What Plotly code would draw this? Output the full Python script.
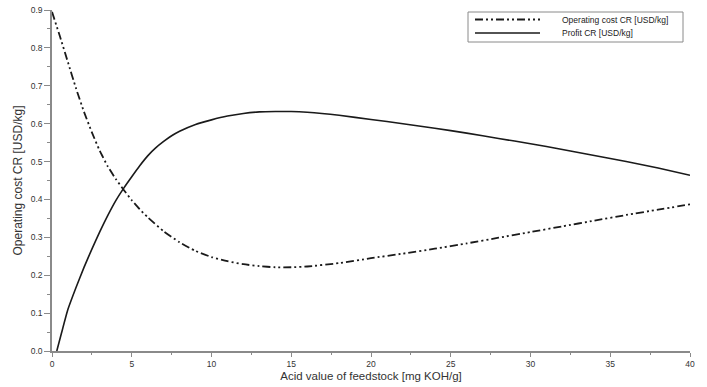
import plotly.graph_objects as go

# Data
cost_x = [0, 0.5, 1, 1.5, 2, 2.5, 3, 3.5, 4, 4.5, 5, 5.5, 6, 7, 8, 9, 10, 11, 12, 13,
          14, 15, 16, 18, 20, 22, 24, 26, 28, 30, 32, 34, 36, 38, 40]
cost_y = [0.895, 0.83, 0.762, 0.694, 0.632, 0.577, 0.528, 0.487, 0.454, 0.425, 0.398,
          0.374, 0.353, 0.316, 0.287, 0.264, 0.248, 0.237, 0.229, 0.224,
          0.221, 0.221, 0.223, 0.232, 0.245, 0.257, 0.270, 0.284, 0.299, 0.314,
          0.329, 0.344, 0.359, 0.373, 0.387]

profit_x = [0.3, 0.6, 1, 1.5, 2, 2.5, 3, 3.5, 4, 4.5, 5, 5.5, 6, 6.5, 7, 7.5, 8, 9, 10, 11, 12,
            13, 14, 15, 16, 18, 20, 22, 24, 26, 28, 30, 32, 34, 36, 38, 40]
profit_y = [0.0, 0.048, 0.11, 0.167, 0.22, 0.269, 0.315, 0.358, 0.397, 0.430, 0.460, 0.489,
            0.515, 0.536, 0.553, 0.568, 0.580, 0.598, 0.610, 0.620, 0.627,
            0.631, 0.632, 0.632, 0.630, 0.622, 0.611, 0.600, 0.588, 0.575, 0.561,
            0.547, 0.532, 0.516, 0.500, 0.483, 0.464]

series_names = ["Operating cost CR [USD/kg]", "Profit CR [USD/kg]"]

x_ticks = [0, 5, 10, 15, 20, 25, 30, 35, 40]
y_ticks = [0.0, 0.1, 0.2, 0.3, 0.4, 0.5, 0.6, 0.7, 0.8, 0.9]

FONT = "Liberation Sans, Arial, sans-serif"
AXIS_COL = "#8a8a8a"
LINE_COL = "#1a1a1a"
COST_DASH = "8px,3px,2px,3px,2px,3px"

W, H = 707, 387
L, R, T, B = 52, 17, 10, 36
pw, ph = W - L - R, H - T - B
# convert window pixel positions to paper coordinates
px = lambda v: (v - L) / pw
py = lambda v: (H - B - v) / ph

fig = go.Figure()
fig.add_trace(go.Scatter(
    x=cost_x, y=cost_y, mode="lines", name=series_names[0], showlegend=False,
    line=dict(color=LINE_COL, width=1.8, dash=COST_DASH, shape="spline", smoothing=0.5),
))
fig.add_trace(go.Scatter(
    x=profit_x, y=profit_y, mode="lines", name=series_names[1], showlegend=False,
    line=dict(color=LINE_COL, width=1.6, shape="spline", smoothing=0.5),
))

# Legend box (compact rows like the reference)
fig.add_shape(type="rect", xref="paper", yref="paper",
              x0=px(468), x1=px(683), y0=py(42), y1=py(12),
              line=dict(color=AXIS_COL, width=1), fillcolor="white", layer="above")
fig.add_shape(type="line", xref="paper", yref="paper",
              x0=px(475), x1=px(540), y0=py(19.5), y1=py(19.5),
              line=dict(color=LINE_COL, width=1.8, dash=COST_DASH), layer="above")
fig.add_shape(type="line", xref="paper", yref="paper",
              x0=px(475), x1=px(540), y0=py(33), y1=py(33),
              line=dict(color=LINE_COL, width=1.6), layer="above")
for name, yy in zip(series_names, [20, 33]):
    fig.add_annotation(xref="paper", yref="paper", x=px(560), y=py(yy),
                       xanchor="left", yanchor="middle", text=name, showarrow=False,
                       font=dict(size=8.5, color="#222222", family=FONT))

fig.update_layout(
    width=W, height=H,
    margin=dict(l=L, r=R, t=T, b=B),
    paper_bgcolor="white", plot_bgcolor="white",
    font=dict(family=FONT, color="#333333", size=9),
    showlegend=False,
    xaxis=dict(
        range=[0, 40], tickvals=x_ticks, ticktext=[str(v) for v in x_ticks],
        showgrid=False, zeroline=False, showline=True, linecolor=AXIS_COL, linewidth=1.5,
        ticks="outside", ticklen=4, tickcolor=AXIS_COL, tickwidth=1,
        minor=dict(dtick=2.5, ticks="outside", ticklen=2, tickcolor=AXIS_COL, showgrid=False),
        tickfont=dict(size=8.5, color="#333333"), automargin=False,
        ticklabeloverflow="allow",
        title=dict(text="Acid value of feedstock [mg KOH/g]", font=dict(size=11.5, color="#333333"), standoff=4),
    ),
    yaxis=dict(
        range=[0, 0.9], tickvals=y_ticks, ticktext=["%.1f" % v for v in y_ticks],
        showgrid=False, zeroline=False, showline=True, linecolor=AXIS_COL, linewidth=1.5,
        ticks="outside", ticklen=6, tickcolor=AXIS_COL, tickwidth=1,
        minor=dict(dtick=0.05, ticks="outside", ticklen=3, tickcolor=AXIS_COL, showgrid=False),
        tickfont=dict(size=8.5, color="#333333"), automargin=False,
        ticklabeloverflow="allow",
        title=dict(text="Operating cost CR [USD/kg]", font=dict(size=12, color="#333333"), standoff=6),
    ),
)

# remove the default 8px page margin so the figure fills the window exactly
fig.write_html("out.html", config={"displayModeBar": False},
               post_script="document.body.style.margin='0';")
